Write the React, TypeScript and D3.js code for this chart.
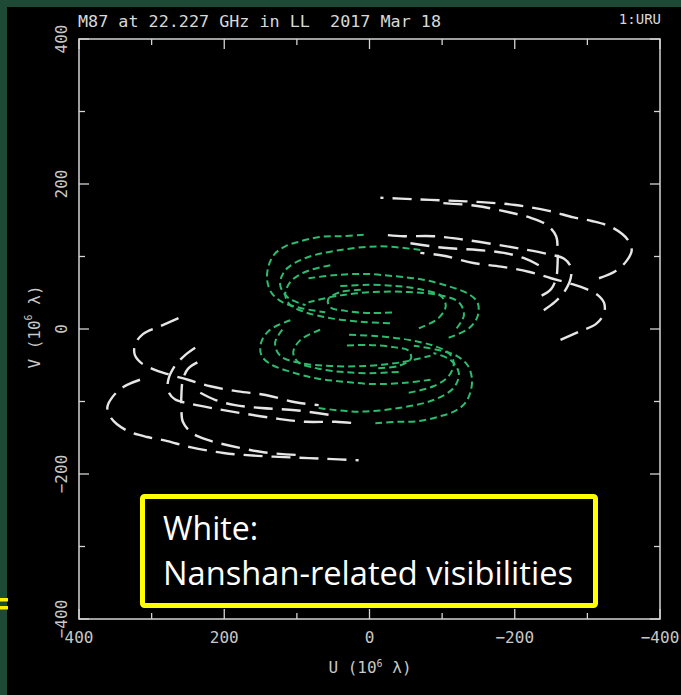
import * as d3 from "d3";

type P = [number, number];

const WIDTH = 681;
const HEIGHT = 695;

// axis ticks (10^6 lambda)
const majorTicks = [400, 200, 0, -200, -400];
const minorTicks = [300, 100, -100, -300];
const xTickLabels = ["400", "200", "0", "\u2212200", "\u2212400"];
const yTickLabels = ["400", "200", "0", "\u2212200", "\u2212400"];

// Nanshan-related tracks (u, v), lower-left half; conjugates are (-u, -v)
const nanshan1: P[] = [[263, 15], [288, 4], [312, -7], [323, -22], [323, -36], [314, -47], [299, -55], [279, -62], [250, -70], [219, -79], [181, -86], [143, -91], [102, -101], [70, -105]];
const nanshan2: P[] = [[316, -70], [339, -80], [354, -94], [361, -108], [357, -121], [348, -131], [330, -142], [306, -149], [281, -154], [247, -163], [201, -171], [154, -175], [109, -177], [61, -179], [15, -181]];
const nanshan3: P[] = [[240, -26], [255, -37], [268, -51], [277, -70], [277, -86], [268, -97], [247, -103], [212, -110], [171, -117], [125, -124], [88, -128], [47, -128], [19, -130]];
const nanshan4: P[] = [[237, -46], [250, -55], [257, -70], [259, -91], [259, -112], [257, -128], [245, -143], [223, -153], [192, -161], [146, -170], [95, -174]];
const nanshan5: P[] = [[233, -88], [212, -98], [185, -105], [149, -109], [102, -112], [52, -119]];

// other (short) baselines, green
const short1: P[] = [[8, 130], [40, 128], [68, 127], [95, 121], [116, 114], [131, 103], [139, 87], [141, 68], [135, 50], [120, 37], [95, 29], [61, 23]];
const short2: P[] = [[54, 88], [88, 79], [109, 65], [116, 47], [109, 33], [88, 23], [54, 15], [12, 10], [-29, 8]];
const short3: P[] = [[109, 12], [137, -1], [149, -18], [149, -36], [137, -48], [109, -59], [74, -68], [33, -73], [-8, -76], [-50, -74], [-84, -70]];
const short4: P[] = [[68, -1], [95, -15], [105, -32], [98, -46], [74, -54], [40, -59], [-1, -61], [-43, -59]];
const short5: P[] = [[12, 54], [40, 51], [57, 41], [54, 30], [33, 25], [-1, 22], [-36, 23]];
const short6: P[] = [[-70, 109], [-15, 114], [40, 109], [88, 98], [116, 81], [123, 61], [112, 43], [88, 33]];
const short7: P[] = [[120, -1], [130, -19], [123, -37], [95, -47], [54, -51], [6, -51], [-43, -46], [-84, -37]];

const nanshanTracks = [nanshan1, nanshan2, nanshan3, nanshan4, nanshan5];
const shortTracks = [short1, short2, short3, short4, short5, short6, short7];

const mono = "DejaVu Sans Mono, Liberation Mono, monospace";

// each visibility is plotted with its complex conjugate
const withConjugates = (tracks: P[][]) =>
  tracks.flatMap((t) => [t, t.map(([u, v]) => [-u, -v] as P)]);

export default function App() {
  const x = d3.scaleLinear().domain([400, -400]).range([79, 660]);
  const y = d3.scaleLinear().domain([400, -400]).range([39, 619]);
  const [x0, x1] = x.range();
  const [y0, y1] = y.range();

  const line = d3
    .line<P>()
    .x((d) => x(d[0]))
    .y((d) => y(d[1]))
    .curve(d3.curveCatmullRom.alpha(0.5));

  const frameColor = "#d4d4d4";

  const ticks = (vals: number[], len: number) =>
    vals.map((t) => (
      <g key={`${t}-${len}`} stroke={frameColor} strokeWidth={1.3}>
        <line x1={x(t)} x2={x(t)} y1={y1} y2={y1 - len} />
        <line x1={x(t)} x2={x(t)} y1={y0} y2={y0 + len} />
        <line x1={x0} x2={x0 + len} y1={y(t)} y2={y(t)} />
        <line x1={x1} x2={x1 - len} y1={y(t)} y2={y(t)} />
      </g>
    ));

  return (
    <svg
      width={WIDTH}
      height={HEIGHT}
      style={{ position: "absolute", left: 0, top: 0 }}
    >
      <rect width={WIDTH} height={HEIGHT} fill="#1e4a35" />
      <rect x={7} y={7} width={WIDTH - 7} height={HEIGHT - 7} fill="#000" />
      <rect x={0} y={598} width={8} height={3.5} fill="#ffee00" />
      <rect x={0} y={606} width={8} height={3.5} fill="#ffee00" />

      {/* title */}
      <text x={78} y={27} fill="#d8d8d8" fontFamily={mono} fontSize={15} textLength={363} lengthAdjust="spacingAndGlyphs">
        {"M87 at 22.227 GHz in LL\u00a0 2017 Mar 18"}
      </text>
      <text x={661} y={24} fill="#d8d8d8" fontFamily={mono} fontSize={14} textAnchor="end">
        1:URU
      </text>

      {/* tracks */}
      <g fill="none" stroke="#2dbb6e" strokeWidth={2} strokeDasharray="7 4">
        {withConjugates(shortTracks).map((t, i) => (
          <path key={i} d={line(t) ?? ""} />
        ))}
      </g>
      <g fill="none" stroke="#e6e6e6" strokeWidth={2.4} strokeDasharray="19 9">
        {withConjugates(nanshanTracks).map((t, i) => (
          <path key={i} d={line(t) ?? ""} />
        ))}
      </g>

      {/* frame and ticks */}
      <rect x={x0} y={y0} width={x1 - x0} height={y1 - y0} fill="none" stroke={frameColor} strokeWidth={1.5} />
      {ticks(majorTicks, 10)}
      {ticks(minorTicks, 6)}

      <g fill="#c8c8c8" fontFamily={mono} fontSize={16}>
        {majorTicks.map((t, i) => (
          <text key={`x${t}`} x={x(t)} y={643} textAnchor="middle">
            {xTickLabels[i]}
          </text>
        ))}
        {majorTicks.map((t, i) => (
          <text
            key={`y${t}`}
            x={61}
            y={y(t)}
            textAnchor="middle"
            dominantBaseline="central"
            transform={`rotate(-90, 61, ${y(t)})`}
          >
            {yTickLabels[i]}
          </text>
        ))}
        <text x={370} y={673} textAnchor="middle">
          U (10<tspan dy={-6} fontSize={10}>6</tspan><tspan dy={6}> λ)</tspan>
        </text>
        <text
          x={34}
          y={327}
          textAnchor="middle"
          dominantBaseline="central"
          transform="rotate(-90, 34, 327)"
        >
          V (10<tspan dy={-6} fontSize={10}>6</tspan><tspan dy={6}> λ)</tspan>
        </text>
      </g>

      {/* annotation box */}
      <rect x={142.5} y={496.5} width={453} height={109} rx={2} fill="#000" stroke="#ffff00" strokeWidth={5} />
      <text x={163} y={540} fill="#fff" fontFamily="Open Sans, Noto Sans, sans-serif" fontSize={32}>
        White:
      </text>
      <text x={163} y={585} fill="#fff" fontFamily="Open Sans, Noto Sans, sans-serif" fontSize={32} textLength={410} lengthAdjust="spacingAndGlyphs">
        Nanshan-related visibilities
      </text>
    </svg>
  );
}
